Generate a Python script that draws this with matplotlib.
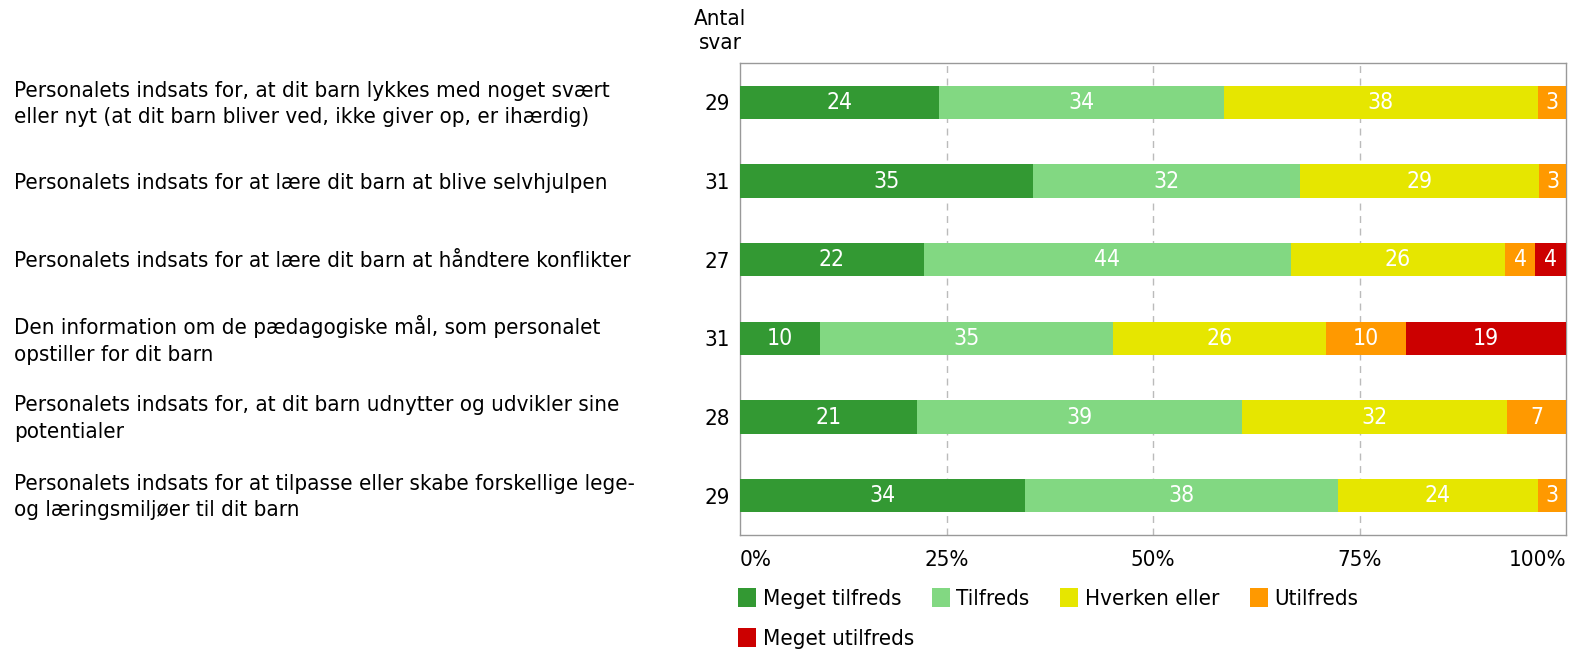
import matplotlib
matplotlib.use("Agg")
import matplotlib.pyplot as plt
import numpy as np

categories = [
    "Personalets indsats for, at dit barn lykkes med noget svært\neller nyt (at dit barn bliver ved, ikke giver op, er ihærdig)",
    "Personalets indsats for at lære dit barn at blive selvhjulpen",
    "Personalets indsats for at lære dit barn at håndtere konflikter",
    "Den information om de pædagogiske mål, som personalet\nopstiller for dit barn",
    "Personalets indsats for, at dit barn udnytter og udvikler sine\npotentialer",
    "Personalets indsats for at tilpasse eller skabe forskellige lege-\nog læringsmiljøer til dit barn",
]
series_names = ["Meget tilfreds", "Tilfreds", "Hverken eller", "Utilfreds", "Meget utilfreds"]
# response counts per category
meget_tilfreds = [7, 11, 6, 3, 6, 10]
tilfreds = [10, 10, 12, 11, 11, 11]
hverken = [11, 9, 7, 8, 9, 7]
utilfreds = [1, 1, 1, 3, 2, 1]
meget_utilfreds = [0, 0, 1, 6, 0, 0]
colors = ["#339933", "#82D882", "#E6E600", "#FF9900", "#CC0000"]
xtick_labels = ["0%", "25%", "50%", "75%", "100%"]

counts = np.array([meget_tilfreds, tilfreds, hverken, utilfreds, meget_utilfreds], dtype=float)
totals = counts.sum(axis=0)
pct = counts / totals * 100

plt.rcParams["font.stretch"] = "condensed"
fig = plt.figure(figsize=(15.69, 6.54), dpi=100)
ax = fig.add_axes([740/1569, 1-535/654, 826/1569, 472/654])
FS = 16

y = np.arange(len(categories))
left = np.zeros(len(categories))
handles = []
for i, name in enumerate(series_names):
    h = ax.barh(y, pct[i], left=left, height=0.42, color=colors[i], label=name, zorder=3)
    handles.append(h)
    for j in range(len(categories)):
        if pct[i][j] > 0:
            ax.text(left[j] + pct[i][j]/2, y[j], f"{pct[i][j]:.0f}", ha="center", va="center",
                    color="white", fontsize=FS + 0.5, zorder=4)
    left += pct[i]

ax.set_xlim(0, 100)
ax.set_ylim(len(categories)-0.5, -0.5)
ax.set_yticks(y)
ax.set_yticklabels([f"{int(t)}" for t in totals], fontsize=FS)
ax.tick_params(axis="y", length=0, pad=7)
ax.set_xticks([0, 25, 50, 75, 100])
ax.set_xticklabels(xtick_labels, fontsize=FS)
ax.tick_params(axis="x", length=0, pad=11)
tl = ax.get_xticklabels()
tl[0].set_ha("left")
tl[-1].set_ha("right")
for x in [25, 50, 75]:
    ax.axvline(x, color="#BBBBBB", linestyle=(0, (5, 4)), linewidth=1, zorder=1)
for s in ax.spines.values():
    s.set_color("#999999")
    s.set_linewidth(1)

for j, cat in enumerate(categories):
    ypix = 104 + j * 78.6
    fig.text(14/1569, 1 - ypix/654, cat, ha="left", va="center", fontsize=FS, linespacing=1.42)

fig.text(720/1569, 1 - 31/654, "Antal\nsvar", ha="center", va="center", fontsize=FS, linespacing=1.25)

kw = dict(frameon=False, fontsize=FS, handlelength=0.8, handleheight=0.95, handletextpad=0.3,
          columnspacing=1.38, borderaxespad=0, borderpad=0)
leg1 = ax.legend(handles=handles[:4], loc="upper left", bbox_to_anchor=(-0.002, -0.112), ncol=4, **kw)
ax.add_artist(leg1)
ax.legend(handles=handles[4:], loc="upper left", bbox_to_anchor=(-0.002, -0.197), ncol=1, **kw)

fig.savefig("out.png", dpi=100)
